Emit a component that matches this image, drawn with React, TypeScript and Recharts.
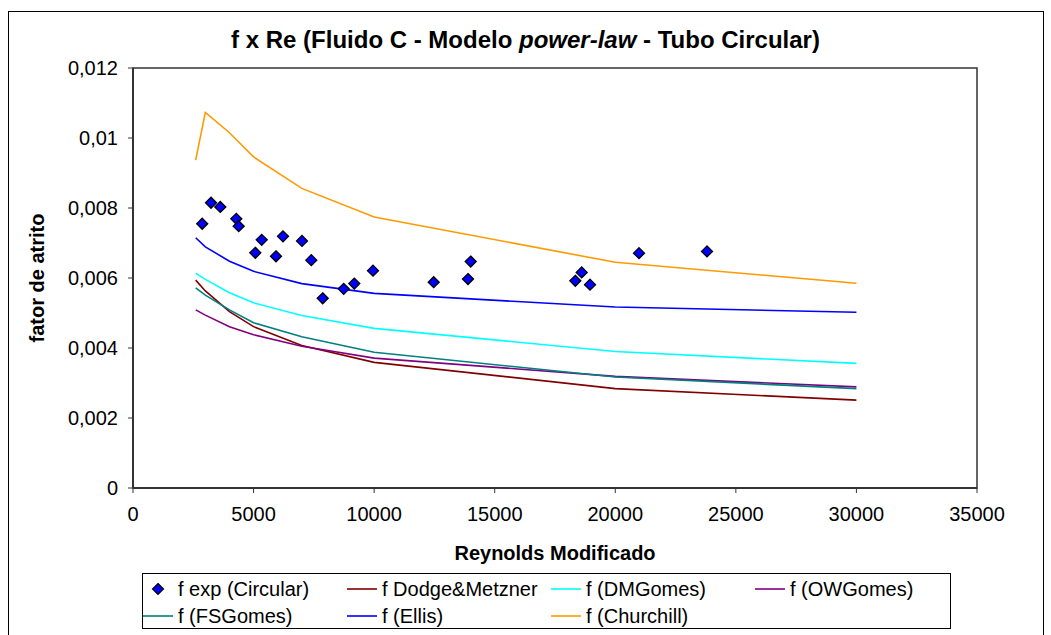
import {ComposedChart, Line, Scatter, XAxis, YAxis, ReferenceArea} from "recharts";

// modified Reynolds number where the correlations were evaluated
const reCurve = [2600, 3000, 4000, 5000, 7000, 10000, 20000, 30000];

const fDodge = [0.00594, 0.00563, 0.00504, 0.00461, 0.00407, 0.00359, 0.00284, 0.00251];
const fDMGomes = [0.00614, 0.00596, 0.00558, 0.00529, 0.00493, 0.00456, 0.0039, 0.00356];
const fOWGomes = [0.00509, 0.00494, 0.00461, 0.00438, 0.00405, 0.00371, 0.00319, 0.00289];
const fFSGomes = [0.00572, 0.00551, 0.00509, 0.00472, 0.00432, 0.00388, 0.00317, 0.00284];
const fEllis = [0.00715, 0.00689, 0.00648, 0.00619, 0.00584, 0.00556, 0.00517, 0.00502];
const fChurchill = [0.00937, 0.01073, 0.01015, 0.00946, 0.00856, 0.00774, 0.00645, 0.00585];

// experimental points (circular tube)
const reExp = [2870, 3235, 3620, 4284, 4383, 5337, 5072, 6220, 5930, 7008, 7394, 7867, 8738, 9177, 9953, 12470, 13892, 14004, 18342, 18607, 18952, 20984, 23804];
const fExp = [0.00755, 0.00815, 0.00803, 0.00769, 0.00748, 0.00709, 0.00672, 0.00719, 0.00662, 0.00706, 0.00651, 0.00542, 0.00569, 0.00584, 0.00621, 0.00588, 0.00597, 0.00647, 0.00592, 0.00616, 0.00581, 0.00671, 0.00676];

const xTicks = [0, 5000, 10000, 15000, 20000, 25000, 30000, 35000];
const yTicks = [0, 0.002, 0.004, 0.006, 0.008, 0.01, 0.012];

const FONT = "'Liberation Sans', Arial, sans-serif";

const toPoints = (ys: number[]) => reCurve.map((re, i) => ({re, f: ys[i]}));
const expData = reExp.map((re, i) => ({re, f: fExp[i]}));

const curves = [
    {name: "f Dodge&Metzner", color: "#800000", data: toPoints(fDodge)},
    {name: "f (DMGomes)", color: "#00ffff", data: toPoints(fDMGomes)},
    {name: "f (OWGomes)", color: "#800080", data: toPoints(fOWGomes)},
    {name: "f (FSGomes)", color: "#008080", data: toPoints(fFSGomes)},
    {name: "f (Ellis)", color: "#0000ff", data: toPoints(fEllis)},
    {name: "f (Churchill)", color: "#ff9900", data: toPoints(fChurchill)},
];

const Diamond = (props: any) => {
    const {cx, cy} = props;
    const r = 5.5;
    return (
        <path
            d={`M${cx},${cy - r}L${cx + r},${cy}L${cx},${cy + r}L${cx - r},${cy}Z`}
            fill="#0000ff"
            stroke="#000"
            strokeWidth={1.3}
        />
    );
};

const YTitle = (props: any) => {
    const {y, height} = props.viewBox;
    const cx = 37;
    const cy = y + height / 2;
    return (
        <text
            x={cx}
            y={cy}
            transform={`rotate(-90 ${cx} ${cy})`}
            textAnchor="middle"
            dominantBaseline="central"
            fontFamily={FONT}
            fontSize={20}
            fontWeight="bold"
            fill="#000"
        >
            fator de atrito
        </text>
    );
};

const legendItems = [
    {name: "f exp (Circular)", color: "#0000ff", marker: true, col: 0, row: 0},
    {name: curves[0].name, color: curves[0].color, col: 1, row: 0},
    {name: curves[1].name, color: curves[1].color, col: 2, row: 0},
    {name: curves[2].name, color: curves[2].color, col: 3, row: 0},
    {name: curves[3].name, color: curves[3].color, col: 0, row: 1},
    {name: curves[4].name, color: curves[4].color, col: 1, row: 1},
    {name: curves[5].name, color: curves[5].color, col: 2, row: 1},
];

export default function App() {
    return (
        <div style={{position: "absolute", left: 0, top: 0, width: 1051, height: 635, background: "#fff", overflow: "hidden", fontFamily: FONT}}>
            <div style={{position: "absolute", left: 8, top: 11, width: 1034, height: 640, border: "1px solid #000"}}/>
            <div style={{position: "absolute", left: 8, width: 1035, top: 26, textAlign: "center", fontSize: 24, fontWeight: "bold", lineHeight: "28px"}}>
                f x Re (Fluido C - Modelo <i>power-law</i> - Tubo Circular)
            </div>
            <ComposedChart
                width={1051}
                height={635}
                margin={{top: 68, right: 74, bottom: 67, left: 0}}
                style={{position: "absolute", left: 0, top: 0}}
            >
                <ReferenceArea x1={0} x2={35000} y1={0} y2={0.012} fill="none" stroke="#333" strokeWidth={1.5}/>
                <XAxis
                    type="number"
                    dataKey="re"
                    domain={[0, 35000]}
                    ticks={xTicks}
                    interval={0}
                    height={80}
                    tickSize={5}
                    tickMargin={14}
                    tick={{fill: "#000", fontSize: 20, fontFamily: FONT}}
                    tickLine={{stroke: "#333"}}
                    axisLine={{stroke: "#333", strokeWidth: 2}}
                    label={{value: "Reynolds Modificado", position: "insideBottom", offset: 8, fill: "#000", fontSize: 20, fontWeight: "bold", fontFamily: FONT}}
                />
                <YAxis
                    type="number"
                    dataKey="f"
                    domain={[0, 0.012]}
                    ticks={yTicks}
                    interval={0}
                    width={133}
                    tickSize={5}
                    tickMargin={10}
                    tickFormatter={(v: number) => String(v).replace(".", ",")}
                    tick={{fill: "#000", fontSize: 20, fontFamily: FONT}}
                    tickLine={{stroke: "#333"}}
                    axisLine={{stroke: "#333", strokeWidth: 2}}
                    label={YTitle}
                />
                {curves.map((c) => (
                    <Line
                        key={c.name}
                        data={c.data}
                        dataKey="f"
                        name={c.name}
                        type="linear"
                        stroke={c.color}
                        strokeWidth={1.6}
                        dot={false}
                        activeDot={false}
                        isAnimationActive={false}
                    />
                ))}
                <Scatter
                    data={expData}
                    dataKey="f"
                    name="f exp (Circular)"
                    shape={Diamond}
                    isAnimationActive={false}
                />
            </ComposedChart>
            <div style={{position: "absolute", left: 142, top: 573, width: 807, height: 54, border: "1px solid #000", background: "#fff"}}>
                {legendItems.map((it) => (
                    <div
                        key={it.name}
                        style={{position: "absolute", left: it.col * 204, top: 15 + it.row * 27 - 12, height: 24, display: "flex", alignItems: "center", fontSize: 20, whiteSpace: "nowrap"}}
                    >
                        <svg width={30} height={14} style={{marginRight: 5}}>
                            {it.marker ? (
                                <path d="M15,1.5L20.5,7L15,12.5L9.5,7Z" fill="#0000ff" stroke="#000" strokeWidth={1.2}/>
                            ) : (
                                <line x1={0} y1={7} x2={30} y2={7} stroke={it.color} strokeWidth={1.6}/>
                            )}
                        </svg>
                        <span>{it.name}</span>
                    </div>
                ))}
            </div>
        </div>
    );
}
